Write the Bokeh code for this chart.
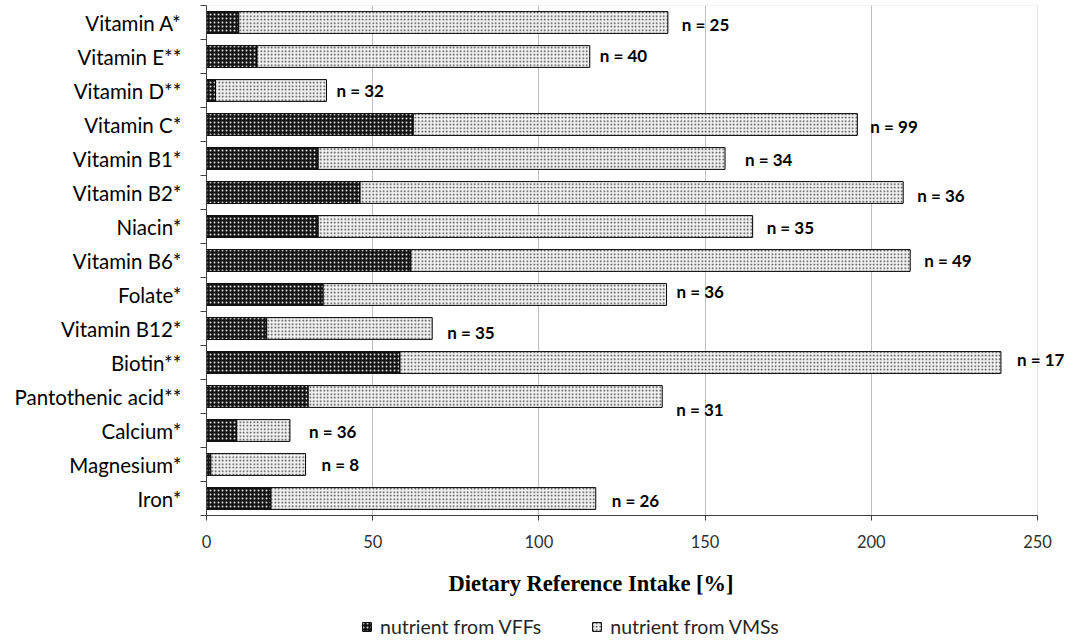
from bokeh.plotting import figure
from bokeh.layouts import column
from bokeh.models import (ColumnDataSource, FixedTicker, Range1d, Legend, LegendItem, Title,
                          BoxAnnotation)
from bokeh.core.properties import value
from bokeh.embed import file_html
from bokeh.resources import INLINE

categories = ["Vitamin A*", "Vitamin E**", "Vitamin D**", "Vitamin C*", "Vitamin B1*",
              "Vitamin B2*", "Niacin*", "Vitamin B6*", "Folate*", "Vitamin B12*",
              "Biotin**", "Pantothenic acid**", "Calcium*", "Magnesium*", "Iron*"]
vff = [9.7, 15.2, 2.7, 62.2, 33.6, 46.2, 33.6, 61.5, 35.1, 18.1, 58.2, 30.6, 9.1, 1.3, 19.4]
vms = [129.1, 100.1, 33.4, 133.6, 122.4, 163.4, 130.7, 150.2, 103.3, 49.8, 180.8, 106.5, 16.0, 28.5, 97.7]
n_labels = ["n = 25", "n = 40", "n = 32", "n = 99", "n = 34", "n = 36", "n = 35", "n = 49",
            "n = 36", "n = 35", "n = 17", "n = 31", "n = 36", "n = 8", "n = 26"]
x_ticks = [0, 50, 100, 150, 200, 250]
series_names = ["nutrient from VFFs", "nutrient from VMSs"]

# label nudges (style, screen pixels; positive dy = down)
label_dx = [14, 10, 10, 13, 20, 14, 14, 14, 10, 15, 16, 14, 19, 16, 16]
label_dy = [2, -1, 0, 2, 1, 3, 1, 0, -3, 4, -3, 13, 1, 0, 2]

N = len(categories)
ys = [N - i - 0.5 for i in range(N)]
totals = [a + b for a, b in zip(vff, vms)]

src = ColumnDataSource(dict(y=ys, vff=vff, tot=totals, lab=n_labels, dx=label_dx, dy=label_dy,
                            zero=[0] * N))

FONT = "Lato"
W = 1080
LEFT = 206
TOP = 5
FRAME_H = 510
MAIN_H = 614
LEG_H = 26
X_MAX = x_ticks[-1]
X_END = X_MAX * (W - LEFT) / 831.0   # room right of the 250 line for the labels

dark = dict(fill_color="#141414", line_color="black", line_width=1,
            hatch_pattern="dot", hatch_color="white", hatch_scale=4, hatch_alpha=0.85)
light = dict(fill_color="#f2f2f2", line_color="black", line_width=1,
             hatch_pattern="dot", hatch_color="#2a2a2a", hatch_scale=3.5, hatch_alpha=0.9)

p = figure(width=W, height=MAIN_H, output_backend="svg", toolbar_location=None,
           x_range=Range1d(0, X_END), y_range=Range1d(0, N),
           min_border_left=LEFT, min_border_right=0, min_border_top=TOP,
           min_border_bottom=MAIN_H - TOP - FRAME_H)
p.background_fill_color = "white"
p.border_fill_color = "white"
p.outline_line_color = None

frame_box = BoxAnnotation(left=x_ticks[0], right=X_MAX, bottom=0, top=N, fill_alpha=0,
                          line_color="#a6a6a6", line_width=1, level="underlay")
p.add_layout(frame_box)

r1 = p.hbar(y="y", left="zero", right="vff", height=0.64, source=src, **dark)
r2 = p.hbar(y="y", left="vff", right="tot", height=0.64, source=src, **light)

p.text(x="tot", y="y", text="lab", source=src, x_offset="dx", y_offset="dy",
       text_font=value(FONT), text_font_style="bold", text_font_size="17px",
       text_baseline="middle", text_align="left", text_color="black")

# axes
xa = p.xaxis[0]
xa.ticker = FixedTicker(ticks=x_ticks)
xa.bounds = (x_ticks[0], X_MAX)
xa.major_label_text_font = FONT
xa.major_label_text_font_size = "16.5px"
xa.major_label_text_color = "#303030"
xa.axis_line_color = "#404040"
xa.major_tick_line_color = "#404040"
xa.major_tick_out = 5
xa.major_tick_in = 0
xa.minor_tick_line_color = None
xa.major_label_standoff = 14

ya = p.yaxis[0]
ya.ticker = FixedTicker(ticks=ys, minor_ticks=[float(k) for k in range(N + 1)])
ya.major_label_overrides = {y: c for y, c in zip(ys, categories)}
ya.major_label_text_font = FONT
ya.major_label_text_font_size = "20.5px"
ya.major_label_text_color = "black"
ya.axis_line_color = "#404040"
ya.major_tick_line_color = None
ya.major_tick_out = 6
ya.major_tick_in = 0
ya.minor_tick_line_color = "#404040"
ya.minor_tick_out = 6
ya.minor_tick_in = 0
ya.major_label_standoff = 19

p.xgrid.ticker = FixedTicker(ticks=x_ticks[1:-1])
p.xgrid.grid_line_color = "#c0c0c0"
p.ygrid.grid_line_color = None

t = Title(text="Dietary Reference Intake [%]", align="left", offset=242,
          text_font="Liberation Serif", text_font_style="bold", text_font_size="22.5px",
          text_color="black", standoff=37)
p.add_layout(t, "below")

# legend strip
nan = float("nan")
lg = figure(width=W, height=LEG_H, output_backend="svg", toolbar_location=None,
            x_range=Range1d(0, 1), y_range=Range1d(0, 1),
            min_border_left=LEFT, min_border_right=0, min_border_top=0, min_border_bottom=0)
lg.axis.visible = False
lg.grid.visible = False
lg.outline_line_color = None
lr1 = lg.hbar(y=[nan], left=[nan], right=[nan], height=0.5, **dark)
lr2 = lg.hbar(y=[nan], left=[nan], right=[nan], height=0.5, **light)
legend = Legend(items=[LegendItem(label=series_names[0], renderers=[lr1]),
                       LegendItem(label=series_names[1], renderers=[lr2])],
                orientation="horizontal", location=(361 - LEFT, 2),
                label_text_font=FONT, label_text_font_size="19.5px", label_text_color="#262626",
                glyph_width=11, glyph_height=11, spacing=50, label_standoff=8,
                border_line_color=None, background_fill_alpha=0, padding=0, margin=0)
lg.add_layout(legend, "center")

open("out.html", "w").write(file_html(column(p, lg, spacing=0), INLINE))
